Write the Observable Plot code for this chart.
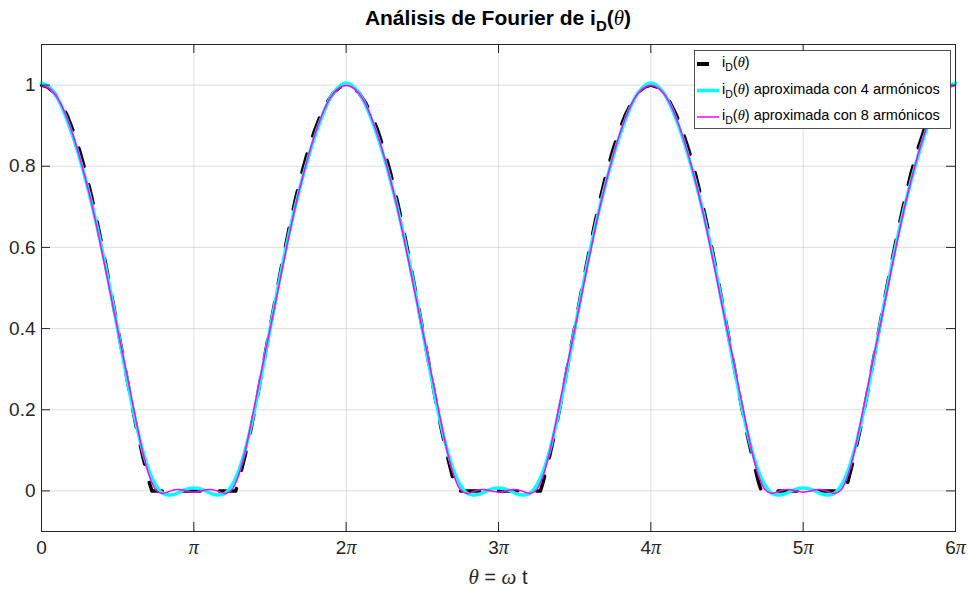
<!DOCTYPE html>
<html>
<head>
<meta charset="utf-8">
<script src="https://cdn.jsdelivr.net/npm/d3@7"></script>
<script src="https://cdn.jsdelivr.net/npm/@observablehq/plot@0.6"></script>
<style>
  html, body { margin: 0; padding: 0; background: #ffffff; }
  #chart svg { display: block; }
</style>
</head>
<body>
<div id="chart"></div>
<script>
// ---------- data (θ in units of π/24 for the sample index) ----------
const xTickValues = [0, 1, 2, 3, 4, 5, 6];            // θ / π
const xTickLabels = ["0", "π", "2π", "3π", "4π", "5π", "6π"];
const yTickValues = [0, 0.2, 0.4, 0.6, 0.8, 1];
const yTickLabels = ["0", "0.2", "0.4", "0.6", "0.8", "1"];

const seriesNames = [
  "i_D(θ)",
  "i_D(θ) aproximada con 4 armónicos",
  "i_D(θ) aproximada con 8 armónicos"
];

// sample index k (θ = k·π/24), 0 … 144  (0 … 6π)
const approxIndex = d3.range(0, 145);

const approx4 = [
  1.005,0.998,0.981,0.953,0.915,0.871,0.820,0.764,0.702,0.634,0.560,0.481,0.398,0.314,0.233,0.159,0.096,0.047,0.014,-0.005,-0.010,-0.008,-0.001,0.005,0.007,0.005,-0.001,-0.008,-0.010,-0.005,0.014,0.047,0.096,0.159,0.233,0.314,0.398,0.481,0.560,0.634,0.702,0.764,0.820,0.871,0.915,0.953,0.981,0.998,
  1.005,0.998,0.981,0.953,0.915,0.871,0.820,0.764,0.702,0.634,0.560,0.481,0.398,0.314,0.233,0.159,0.096,0.047,0.014,-0.005,-0.010,-0.008,-0.001,0.005,0.007,0.005,-0.001,-0.008,-0.010,-0.005,0.014,0.047,0.096,0.159,0.233,0.314,0.398,0.481,0.560,0.634,0.702,0.764,0.820,0.871,0.915,0.953,0.981,0.998,
  1.005,0.998,0.981,0.953,0.915,0.871,0.820,0.764,0.702,0.634,0.560,0.481,0.398,0.314,0.233,0.159,0.096,0.047,0.014,-0.005,-0.010,-0.008,-0.001,0.005,0.007,0.005,-0.001,-0.008,-0.010,-0.005,0.014,0.047,0.096,0.159,0.233,0.314,0.398,0.481,0.560,0.634,0.702,0.764,0.820,0.871,0.915,0.953,0.981,0.998,
  1.005
];

const approx8 = [
  0.999,0.994,0.980,0.955,0.919,0.875,0.823,0.765,0.701,0.629,0.553,0.475,0.398,0.322,0.244,0.165,0.092,0.036,0.003,-0.006,-0.002,0.003,0.003,-0.001,-0.003,-0.001,0.003,0.003,-0.002,-0.006,0.003,0.036,0.092,0.165,0.244,0.322,0.398,0.475,0.553,0.629,0.701,0.765,0.823,0.875,0.919,0.955,0.980,0.994,
  0.999,0.994,0.980,0.955,0.919,0.875,0.823,0.765,0.701,0.629,0.553,0.475,0.398,0.322,0.244,0.165,0.092,0.036,0.003,-0.006,-0.002,0.003,0.003,-0.001,-0.003,-0.001,0.003,0.003,-0.002,-0.006,0.003,0.036,0.092,0.165,0.244,0.322,0.398,0.475,0.553,0.629,0.701,0.765,0.823,0.875,0.919,0.955,0.980,0.994,
  0.999,0.994,0.980,0.955,0.919,0.875,0.823,0.765,0.701,0.629,0.553,0.475,0.398,0.322,0.244,0.165,0.092,0.036,0.003,-0.006,-0.002,0.003,0.003,-0.001,-0.003,-0.001,0.003,0.003,-0.002,-0.006,0.003,0.036,0.092,0.165,0.244,0.322,0.398,0.475,0.553,0.629,0.701,0.765,0.823,0.875,0.919,0.955,0.980,0.994,
  0.999
];

// exact waveform: positions in units of π/24, including the corners where it meets zero
const exactIndex = [
  0,1,2,3,4,5,6,7,8,9,10,11,12,13,14,15,16,17,17.4,30.6,31,32,33,34,35,36,37,38,39,40,41,42,43,44,45,46,47,
  48,49,50,51,52,53,54,55,56,57,58,59,60,61,62,63,64,65,65.4,78.6,79,80,81,82,83,84,85,86,87,88,89,90,91,92,93,94,95,
  96,97,98,99,100,101,102,103,104,105,106,107,108,109,110,111,112,113,113.4,126.6,127,128,129,130,131,132,133,134,135,136,137,138,139,140,141,142,143,
  144
];
const exactValue = [
  1.000,0.995,0.981,0.958,0.927,0.887,0.839,0.783,0.718,0.646,0.568,0.486,0.402,0.317,0.232,0.152,0.082,0.020,0,0,0.020,0.082,0.152,0.232,0.317,0.402,0.486,0.568,0.646,0.718,0.783,0.839,0.887,0.927,0.958,0.981,0.995,
  1.000,0.995,0.981,0.958,0.927,0.887,0.839,0.783,0.718,0.646,0.568,0.486,0.402,0.317,0.232,0.152,0.082,0.020,0,0,0.020,0.082,0.152,0.232,0.317,0.402,0.486,0.568,0.646,0.718,0.783,0.839,0.887,0.927,0.958,0.981,0.995,
  1.000,0.995,0.981,0.958,0.927,0.887,0.839,0.783,0.718,0.646,0.568,0.486,0.402,0.317,0.232,0.152,0.082,0.020,0,0,0.020,0.082,0.152,0.232,0.317,0.402,0.486,0.568,0.646,0.718,0.783,0.839,0.887,0.927,0.958,0.981,0.995,
  1.000
];

// ---------- build tables ----------
const exactData = exactIndex.map((k, i) => ({theta: k / 24, value: exactValue[i]}));
const a4Data = approxIndex.map((k, i) => ({theta: k / 24, value: approx4[i]}));
const a8Data = approxIndex.map((k, i) => ({theta: k / 24, value: approx8[i]}));

const W = 968, H = 591;
const mL = 41, mR = 13, mT = 44, mB = 60;
const frameW = W - mL - mR, frameH = H - mT - mB;
const tickLen = 9;
const axisColor = "#262626";
const font = "'Liberation Sans', Arial, Helvetica, sans-serif";
const serif = "'Liberation Serif', 'Times New Roman', serif";
const tickFont = 19;

const chart = Plot.plot({
  width: W,
  height: H,
  marginLeft: mL, marginRight: mR, marginTop: mT, marginBottom: mB,
  style: {fontFamily: font, fontSize: tickFont + "px", color: axisColor, background: "#ffffff", overflow: "visible"},
  x: {domain: [0, 6]},
  y: {domain: [-0.1, 1.1]},
  marks: [
    Plot.gridX(xTickValues, {stroke: axisColor, strokeOpacity: 0.15, strokeWidth: 1}),
    Plot.gridY(yTickValues, {stroke: axisColor, strokeOpacity: 0.15, strokeWidth: 1}),
    Plot.line(exactData, {x: "theta", y: "value", stroke: "#000000", strokeWidth: 3.5,
      strokeDasharray: "19,19", strokeLinejoin: "round", curve: "linear"}),
    Plot.line(a4Data, {x: "theta", y: "value", stroke: "#00ffff", strokeWidth: 3.5,
      strokeLinejoin: "round", curve: "catmull-rom"}),
    Plot.line(a8Data, {x: "theta", y: "value", stroke: "#ff00ff", strokeWidth: 1.5,
      strokeLinejoin: "round", curve: "catmull-rom"}),
    // inward ticks, MATLAB style (box on)
    Plot.tickX(xTickValues, {x: d => d, insetTop: frameH - tickLen, stroke: axisColor}),
    Plot.tickX(xTickValues, {x: d => d, insetBottom: frameH - tickLen, stroke: axisColor}),
    Plot.tickY(yTickValues, {y: d => d, insetRight: frameW - tickLen, stroke: axisColor}),
    Plot.tickY(yTickValues, {y: d => d, insetLeft: frameW - tickLen, stroke: axisColor}),
    Plot.frame({stroke: axisColor, strokeWidth: 1}),
    Plot.axisX({ticks: xTickValues, tickSize: 0, tickPadding: 9, fontSize: tickFont, label: null,
      tickFormat: d => xTickLabels[xTickValues.indexOf(d)]}),
    Plot.axisY({ticks: yTickValues, tickSize: 0, tickPadding: 6, fontSize: tickFont, label: null,
      tickFormat: d => yTickLabels[yTickValues.indexOf(d)]})
  ]
});

document.getElementById("chart").appendChild(chart);

const svg = d3.select(chart);

// italic π in x tick labels
svg.selectAll('g[aria-label="x-axis tick label"] text').each(function() {
  const t = d3.select(this);
  const s = t.text();
  if (s.includes("π")) {
    const num = s.replace("π", "");
    t.text(null);
    if (num) t.append("tspan").text(num);
    t.append("tspan").attr("font-family", serif).attr("font-style", "italic").attr("font-size", tickFont + 1).text("π");
  }
});

const cx = mL + frameW / 2;

// title
const title = svg.append("text")
  .attr("x", cx).attr("y", 25)
  .attr("text-anchor", "middle")
  .attr("font-family", font).attr("font-weight", "bold").attr("font-size", 21)
  .attr("fill", "#000");
title.append("tspan").text("Análisis de Fourier de i");
title.append("tspan").attr("dy", 6).attr("font-size", 15).text("D");
title.append("tspan").attr("dy", -6).text("(");
title.append("tspan").attr("font-family", serif).attr("font-style", "italic").attr("font-weight", "normal").text("θ");
title.append("tspan").text(")");

// x label
const xl = svg.append("text")
  .attr("x", cx).attr("y", 584)
  .attr("text-anchor", "middle")
  .attr("font-family", font).attr("font-size", 20)
  .attr("fill", axisColor);
xl.append("tspan").attr("font-family", serif).attr("font-style", "italic").attr("font-size", 21).text("θ");
xl.append("tspan").text(" = ");
xl.append("tspan").attr("font-family", serif).attr("font-style", "italic").attr("font-size", 21).text("ω");
xl.append("tspan").text(" t");

// legend
const lg = svg.append("g").attr("text-anchor", "start");
lg.append("rect")
  .attr("x", 694.5).attr("y", 50.5).attr("width", 256).attr("height", 78)
  .attr("fill", "#ffffff").attr("stroke", axisColor).attr("stroke-width", 0.8);
const legendStyles = [
  {stroke: "#000000", width: 4, len: 12},
  {stroke: "#00ffff", width: 3.5, len: 22},
  {stroke: "#ff00ff", width: 1.5, len: 22}
];
const rowY = [64, 90.5, 117];
seriesNames.forEach((name, i) => {
  const y = rowY[i];
  const st = legendStyles[i];
  lg.append("line").attr("x1", 697).attr("x2", 697 + st.len).attr("y1", y).attr("y2", y)
    .attr("stroke", st.stroke).attr("stroke-width", st.width);
  const t = lg.append("text").attr("x", 722).attr("y", y + 3)
    .attr("text-anchor", "start")
    .attr("font-family", font).attr("font-size", 14.5).attr("fill", "#000");
  const rest = name.replace("i_D(θ)", "");
  t.append("tspan").text("i");
  t.append("tspan").attr("dy", 4).attr("font-size", 10.5).text("D");
  t.append("tspan").attr("dy", -4).text("(");
  t.append("tspan").attr("font-family", serif).attr("font-style", "italic").text("θ");
  t.append("tspan").text(")" + rest);
});
</script>
</body>
</html>
